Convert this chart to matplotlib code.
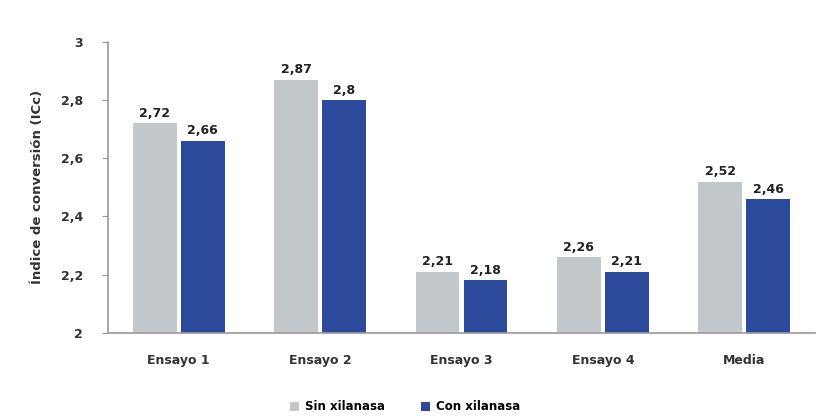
import numpy as np
import matplotlib.pyplot as plt

# datos
categorias = ['Ensayo 1', 'Ensayo 2', 'Ensayo 3', 'Ensayo 4', 'Media']
sin_xilanasa = [2.72, 2.87, 2.21, 2.26, 2.52]
con_xilanasa = [2.66, 2.80, 2.18, 2.21, 2.46]
etq_sin = ['2,72', '2,87', '2,21', '2,26', '2,52']
etq_con = ['2,66', '2,8', '2,18', '2,21', '2,46']
yticks_val = [2, 2.2, 2.4, 2.6, 2.8, 3]
yticks_lab = ['2', '2,2', '2,4', '2,6', '2,8', '3']

gris = '#c3c8ca'
azul = '#2c4a9b'

fig = plt.figure(figsize=(8.19, 4.16), dpi=100)
ax = fig.add_axes([0.132, 0.2, 0.863, 0.699])

x = np.arange(len(categorias))
w = 0.31
b1 = ax.bar(x - 0.17, np.array(sin_xilanasa) - 2, w, bottom=2, color=gris, label='Sin xilanasa')
b2 = ax.bar(x + 0.17, np.array(con_xilanasa) - 2, w, bottom=2, color=azul, label='Con xilanasa')

for i in range(len(x)):
    ax.text(x[i] - 0.17, sin_xilanasa[i] + 0.012, etq_sin[i], ha='center', va='bottom',
            fontsize=9, fontweight='bold', color='#222222')
    ax.text(x[i] + 0.17, con_xilanasa[i] + 0.012, etq_con[i], ha='center', va='bottom',
            fontsize=9, fontweight='bold', color='#222222')

ax.set_xlim(-0.5, 4.5)
ax.set_ylim(2, 3)
ax.set_yticks(yticks_val)
ax.set_yticklabels(yticks_lab, fontsize=9, fontweight='bold', color='#333333')
ax.set_xticks(x)
ax.set_xticklabels(categorias, fontsize=9, fontweight='bold', color='#333333')
ax.set_ylabel('Índice de conversión (ICc)', fontsize=9.5, fontweight='bold', color='#333333', labelpad=12)

for s in ['top', 'right']:
    ax.spines[s].set_visible(False)
for s in ['left', 'bottom']:
    ax.spines[s].set_color('#999999')
    ax.spines[s].set_linewidth(1.2)
ax.tick_params(axis='y', length=4, color='#999999', pad=14)
ax.tick_params(axis='x', length=0, pad=15)

ax.legend(loc='center', bbox_to_anchor=(0.42, -0.255), ncol=2, frameon=False,
          handlelength=0.8, handleheight=0.8, columnspacing=3.0, handletextpad=0.5,
          prop={'weight': 'bold', 'size': 8.5})

fig.savefig('out.png', dpi=100)
